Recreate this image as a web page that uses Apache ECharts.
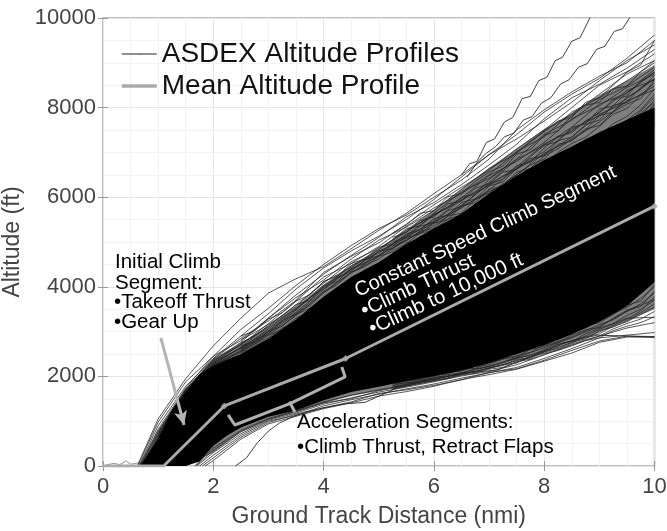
<!DOCTYPE html>
<html><head><meta charset="utf-8">
<style>html,body{margin:0;padding:0;background:#fff}#c{width:667px;height:531px}</style>
<script src="https://cdn.jsdelivr.net/npm/echarts@6/dist/echarts.min.js"></script>
</head><body><div id="c"></div>
<script>
const coreX=[0.67,1,1.25,1.5,1.75,2,2.25,2.5,3,3.5,4,4.5,5,5.5,6,6.5,7,7.5,8,8.5,9,9.5,10];
const coreTop=[0,600,1250,1650,2050,2240,2380,2500,2840,3270,3780,4220,4550,4950,5300,5630,6080,6480,6830,7130,7450,7730,8000];
const coreBottom=[0,0,0,0,100,450,680,860,1100,1240,1470,1650,1770,1900,2010,2130,2300,2500,2700,2940,3220,3570,4100];
const fringeX=[1,1.5,2,2.5,3,3.5,4,4.5,5,5.5,6,6.5,7,7.5,8,8.5,9,9.5,10];
const fringeTop=[780,1720,2400,2750,3100,3560,4050,4480,4850,5280,5720,6180,6650,7080,7520,7880,8280,8600,8950];
const fringeBottom=[0,0,300,760,1040,1200,1400,1560,1680,1810,1950,2080,2220,2380,2560,2780,3000,3240,3500];

// x where each upperLong profile leaves the ground
const upperStart=[0.62,0.63,0.65,0.66,0.68,0.66,0.7,0.68,0.72,0.7,0.74,0.72,0.75,0.74];
// altitudes at x = 1, 1.5, ... 10
const upperLong=[
[1050,1950,2680,3300,3860,4180,4450,4850,5260,5640,6080,6500,6950,7400,7900,8300,8650,9100,9620],
[980,1880,2450,3050,3520,4030,4500,4920,5300,5600,6000,6380,6850,7500,7950,8350,8700,9000,9500],
[900,1780,2400,2900,3400,3950,4420,4800,5130,5500,5950,6450,6950,7300,7700,8120,8600,9050,9400],
[820,1740,2450,2800,3300,3820,4280,4700,5100,5560,5880,6280,6720,7180,7750,8220,8520,8880,9300],
[780,1700,2380,2850,3240,3700,4320,4680,4980,5400,5830,6220,6600,7080,7500,8000,8500,8800,9200],
[750,1720,2330,2760,3300,3760,4150,4620,5040,5330,5700,6180,6640,6980,7480,7850,8300,8750,9050],
[700,1680,2360,2700,3180,3680,4220,4520,4900,5350,5760,6080,6500,7020,7350,7900,8220,8600,9000],
[720,1650,2300,2720,3120,3600,4080,4560,4860,5220,5640,6120,6420,6850,7400,7720,8180,8480,8900],
[680,1700,2280,2650,3140,3560,4110,4430,4830,5260,5590,5980,6480,6800,7220,7750,8040,8450,8750],
[650,1660,2320,2620,3060,3520,3990,4470,4760,5150,5610,5920,6330,6840,7160,7560,8080,8320,8800],
[640,1640,2270,2640,3020,3480,4030,4380,4790,5100,5480,5950,6260,6680,7190,7480,7900,8380,8620],
[620,1660,2260,2580,3000,3430,3940,4400,4680,5130,5420,5820,6300,6620,7020,7520,7820,8200,8640],
[610,1620,2250,2560,2960,3400,3890,4310,4700,5030,5450,5760,6160,6650,6950,7340,7850,8120,8480],
[600,1630,2240,2540,2920,3360,3860,4330,4620,5060,5360,5790,6100,6500,6980,7280,7680,8150,8400]
];
// altitudes at x = 2.5, 2.75, ... 5.25
const upperMid=[
[2750,2900,3100,3320,3500,3760,3950,4200,4350,4600,4700,4950],
[2600,2820,2950,3250,3400,3580,3880,4050,4320,4450,4680,4780],
[2900,3020,3280,3420,3680,3820,4120,4240,4520,4620,4880,4960],
[2680,2780,3000,3120,3380,3520,3760,3980,4120,4380,4500,4720],
[2560,2720,2860,3080,3220,3500,3640,3900,4040,4300,4400,4640],
[2820,2980,3160,3360,3600,3700,4000,4120,4400,4520,4800,4850],
[2620,2760,2920,3050,3300,3440,3720,3880,4100,4260,4450,4600],
[2520,2680,2820,2980,3180,3400,3580,3820,3960,4220,4340,4560]
];
// altitudes at x = 5.25, 5.5, ... 10
const upperShort=[
[5200,5380,5640,5700,6010,6080,6350,6560,6700,7000,7250,7460,7700,7780,8120,8220,8500,8790,8950,9500],
[5050,5300,5360,5620,5760,6000,6060,6400,6620,6960,7060,7380,7480,7820,8050,8120,8420,8480,8800,9050],
[5000,5120,5350,5440,5700,5790,6060,6280,6400,6700,6780,7100,7350,7440,7700,7880,8180,8260,8600,8850],
[4850,5100,5180,5420,5500,5800,5880,6180,6240,6500,6720,6850,7180,7260,7500,7820,7900,8240,8400,8720],
[4800,4960,5200,5260,5520,5600,5830,6000,6240,6340,6620,6680,7000,7200,7340,7580,7850,7980,8280,8550],
[4720,4980,5050,5300,5380,5640,5740,5920,6120,6260,6480,6700,6780,7050,7290,7380,7640,7800,8060,8420],
[4700,4850,5080,5140,5410,5480,5660,5880,6000,6280,6340,6560,6820,6890,7100,7320,7440,7720,7950,8300],
[4650,4870,4950,5180,5250,5500,5620,5720,5980,6060,6300,6500,6600,6880,6960,7240,7420,7500,7800,8180],
[4620,4760,4980,5060,5280,5360,5580,5640,5860,6040,6140,6380,6480,6740,6880,7000,7300,7360,7640,8060],
[4580,4780,4860,5080,5150,5400,5450,5660,5760,5980,6160,6220,6520,6580,6830,7040,7120,7420,7520,7950],
[4560,4690,4900,4980,5180,5250,5480,5520,5780,5840,6080,6260,6320,6580,6720,6880,7180,7240,7500,7880],
[4520,4720,4780,5000,5060,5300,5340,5580,5620,5880,5960,6200,6300,6460,6700,6780,7050,7180,7360,7760],
[4900,5030,5240,5300,5580,5640,5950,6130,6250,6560,6640,6920,7080,7300,7520,7600,7900,8080,8200,8620],
[4760,4920,5000,5240,5320,5480,5700,5800,6060,6180,6400,6450,6760,6920,7020,7280,7500,7560,7880,8120],
[4680,4800,4920,5100,5200,5420,5500,5780,5900,6020,6260,6420,6520,6780,6900,7120,7240,7560,7700,8000],
[4950,5180,5280,5520,5600,5880,5960,6250,6340,6640,6860,6920,7260,7340,7620,7720,8050,8120,8450,8640],
[4600,4740,4940,5020,5230,5320,5520,5600,5820,5930,6180,6300,6400,6640,6780,6950,7100,7280,7440,7820],
[5100,5220,5480,5560,5850,5920,6200,6300,6560,6620,6900,7160,7240,7560,7640,7960,8040,8340,8560,8780],
[4540,4700,4830,5020,5100,5340,5400,5620,5700,5920,6040,6240,6360,6520,6620,6830,6980,7240,7320,7680],
[4750,4900,5120,5200,5460,5540,5760,5860,6140,6200,6440,6600,6700,6960,7120,7260,7540,7620,7920,8240],
[4630,4820,4880,5120,5200,5440,5520,5740,5840,6100,6200,6340,6600,6680,6980,7060,7360,7460,7720,8090],
[4500,4680,4760,4960,5030,5260,5320,5540,5600,5800,5920,6150,6260,6400,6580,6720,6920,7100,7250,7620]
];
// x where each lowerLong profile leaves the ground
const lowerStart=[1.7,1.75,1.8,1.68,1.85,1.66];
// altitudes at x = 2, 2.5, ... 10
const lowerLong=[
[300,720,1020,1180,1380,1520,1650,1760,1880,2010,2110,2260,2480,2700,2900,3080,3200],
[240,680,1000,1130,1340,1480,1600,1720,1830,1960,2080,2200,2400,2620,2860,2920,2980],
[180,640,970,1160,1300,1430,1620,1700,1800,1920,2090,2170,2360,2580,2790,2900,2890],
[350,760,1040,1210,1410,1500,1680,1790,1900,2040,2180,2350,2550,2760,3050,3300,3320],
[120,600,940,1110,1280,1410,1560,1660,1780,1930,2040,2160,2340,2520,2760,2880,2870],
[400,790,1060,1230,1430,1580,1700,1810,1950,2060,2230,2420,2640,2860,3120,3450,3720]
];
// altitudes at x = 5.25, 5.5, ... 10
const lowerShort=[
[1860,1880,1950,2020,2060,2160,2180,2300,2380,2440,2600,2670,2760,2920,3040,3090,3300,3480,3560,3900],
[1800,1860,1880,1980,2000,2080,2170,2220,2310,2420,2460,2600,2720,2780,2950,3080,3180,3360,3500,3700],
[1760,1830,1860,1920,2010,2040,2120,2190,2240,2380,2420,2540,2640,2760,2840,3020,3100,3240,3420,3620],
[1880,1930,2000,2040,2130,2190,2240,2360,2440,2520,2660,2720,2860,2990,3080,3240,3400,3540,3740,4000],
[1740,1790,1880,1900,1960,2060,2090,2180,2260,2300,2440,2520,2600,2720,2820,2900,3060,3180,3280,3450],
[1830,1850,1920,1960,2040,2080,2150,2220,2290,2400,2480,2570,2680,2800,2880,2990,3140,3280,3460,3780],
[1780,1820,1900,1930,1990,2070,2110,2200,2260,2360,2400,2560,2620,2740,2880,2950,3120,3220,3380,3550],
[1900,1960,1990,2070,2110,2200,2280,2320,2470,2500,2620,2760,2820,2950,3130,3200,3380,3590,3680,4050],
[1720,1780,1840,1910,1950,2030,2070,2160,2200,2330,2380,2500,2580,2680,2800,2860,3020,3120,3200,3330],
[1840,1900,1930,2000,2080,2120,2220,2260,2400,2460,2540,2700,2780,2880,3020,3160,3260,3460,3620,3860]
];
const outlierA=[[6.5,6500],[6.65,6750],[6.78,6800],[6.95,7220],[7.1,7300],[7.28,7680],[7.43,7780],[7.6,8200],[7.75,8250],[7.9,8600],[8.05,8680],[8.2,9050],[8.33,9120],[8.5,9480],[8.65,9560],[8.82,9980],[8.9,10200]];
const outlierB=[[6.6,6450],[6.8,6800],[6.95,6980],[7.12,7130],[7.28,7350],[7.45,7430],[7.62,7720],[7.78,7800],[7.95,8100],[8.12,8220],[8.3,8530],[8.45,8620],[8.62,8900],[8.78,8980],[8.95,9300],[9.1,9370],[9.27,9700],[9.42,9760],[9.6,10100]];
const strayLow=[[2.4,0],[2.6,180],[2.8,520],[3,780],[3.2,960],[3.5,1130],[4,1300],[4.4,1390],[4.75,1420],[5.33,1740],[5.93,1920],[6.53,2075],[7.14,2140],[7.74,2430],[8.34,2745],[8.96,2920],[9.5,2900],[10,2880]];
const groundNoise=[[0.05,20],[0.2,60],[0.3,30],[0.42,110],[0.5,40],[0.65,70],[0.75,20],[0.95,50],[1.1,10]];
const meanProfile=[[0,0],[1.1,0],[2.2,1340],[4.4,2400],[10,5800]];
const meanMarks=[[2.2,1340],[4.4,2400],[10,5800]];
const bracket=[[2.27,1140],[2.39,915],[3.4,1400],[4.39,1990],[4.33,2210]];
const bracketTick=[[3.38,1440],[3.48,1200]];
const arrowFrom=[1.05,2860], arrowTo=[1.47,915];
const legendNames=['ASDEX Altitude Profiles','Mean Altitude Profile'];

const LINE='#222';
function thin(data,op,w){return {name:legendNames[0],type:'line',data,symbol:'none',silent:true,animation:false,
  lineStyle:{color:LINE,width:w||0.9,opacity:op||0.85},itemStyle:{color:LINE},z:3};}
const stepGrid=(from,step,vals)=>vals.map((v,i)=>[from+i*step,v]);
function band(xs,top,bottom,fill,opacity,z){return {type:'custom',silent:true,animation:false,z,clip:true,
  data:xs.map((x,i)=>[x,bottom[i],top[i]]),encode:{x:0,y:[1,2]},
  renderItem:(params,api)=>{
    if(params.dataIndex!==0) return null;
    const pts=[];
    xs.forEach((x,i)=>pts.push(api.coord([x,top[i]])));
    for(let i=xs.length-1;i>=0;i--) pts.push(api.coord([xs[i],bottom[i]]));
    return {type:'polygon',shape:{points:pts},style:{fill,opacity}};
  }};}
const series=[];
series.push(band(fringeX,fringeTop,fringeBottom,'#000',0.5,2));
upperLong.forEach((l,k)=>series.push(thin([[upperStart[k],0]].concat(stepGrid(1,0.5,l)))));
upperMid.forEach(l=>series.push(thin(stepGrid(2.5,0.25,l))));
upperShort.forEach(l=>series.push(thin(stepGrid(5.25,0.25,l))));
lowerLong.forEach((l,k)=>series.push(thin([[lowerStart[k],0]].concat(stepGrid(2,0.5,l)))));
lowerShort.forEach(l=>series.push(thin(stepGrid(5.25,0.25,l))));
[outlierA,outlierB,strayLow].forEach(l=>series.push(thin(l,0.85,1)));
series.push(thin(groundNoise,0.6,0.8));
series.push(band(coreX,coreTop,coreBottom,'#000',1,4));
series.push({name:legendNames[1],type:'line',data:meanProfile,symbol:'none',animation:false,silent:true,z:6,
  lineStyle:{color:'#aaaaaa',width:3},itemStyle:{color:'#aaaaaa'},
  markLine:{silent:true,animation:false,symbol:['none','arrow'],symbolSize:[10,14],label:{show:false},
    lineStyle:{color:'#b4b4b4',width:3,type:'solid'},data:[[{coord:arrowFrom},{coord:arrowTo}]]}});
series.push({type:'scatter',data:meanMarks,symbol:'diamond',symbolSize:7,silent:true,animation:false,z:7,itemStyle:{color:'#aaaaaa'}});
[bracket,bracketTick].forEach(b=>series.push({type:'line',data:b,symbol:'none',silent:true,animation:false,z:6,
  lineStyle:{color:'#b0b0b0',width:3}}));

const F='"Liberation Sans",Arial,sans-serif';
const txt=(x,y,t)=>({type:'text',x,y,z:20,silent:true,style:{text:t,fill:'#000',font:'20.5px '+F,textVerticalAlign:'middle'}});
const wt=(x,y,t,size)=>({type:'text',x,y,rotation:25*Math.PI/180,z:20,silent:true,style:{text:t,fill:'#fff',font:size+'px '+F,textVerticalAlign:'middle'}});
const axCommon={axisLine:{show:false},splitLine:{show:true,lineStyle:{color:'#e6e6e6',width:1}},
  minorTick:{show:false,splitNumber:4},minorSplitLine:{show:true,lineStyle:{color:'#f2f2f2',width:1}}};
const tick={show:true,inside:true,length:5,lineStyle:{color:'#999'}};
const chart=echarts.init(document.getElementById('c'),null,{renderer:'canvas'});
chart.setOption({
  animation:false,backgroundColor:'#fff',
  grid:{left:103,right:12.5,top:18,bottom:65,show:true,borderColor:'#aaa',borderWidth:1.5,backgroundColor:'transparent',outerBoundsMode:'none',containLabel:false},
  legend:{data:[{name:legendNames[0],lineStyle:{color:'#222',width:1,opacity:1}},{name:legendNames[1],lineStyle:{color:'#aaaaaa',width:3.5,opacity:1}}],
    left:115,top:35,orient:'vertical',itemWidth:35,itemHeight:1,itemGap:4,selectedMode:false,
    textStyle:{fontFamily:F,fontSize:28,color:'#111'}},
  xAxis:[Object.assign({type:'value',min:0,max:10,interval:2,axisTick:tick,axisLabel:{fontFamily:F,fontSize:22,color:'#444',margin:10,
      formatter:v=>String(v)},name:'Ground Track Distance (nmi)',nameLocation:'middle',nameGap:39,nameTextStyle:{fontFamily:F,fontSize:23,color:'#444'}},axCommon),
    {type:'value',position:'top',min:0,max:10,interval:2,axisLine:{show:false},axisTick:tick,axisLabel:{show:false},splitLine:{show:false}}],
  yAxis:[Object.assign({type:'value',min:0,max:10000,interval:2000,axisTick:tick,axisLabel:{fontFamily:F,fontSize:22,color:'#444',margin:7,formatter:v=>String(v)},
      name:'Altitude (ft)',nameLocation:'middle',nameGap:74,nameTextStyle:{fontFamily:F,fontSize:23,color:'#444'}},axCommon),
    {type:'value',position:'right',min:0,max:10000,interval:2000,axisLine:{show:false},axisTick:tick,axisLabel:{show:false},splitLine:{show:false}}],
  series,
  graphic:[
    txt(115,262,'Initial Climb'),txt(115,283,'Segment:'),txt(114,302,'•Takeoff Thrust'),txt(114,322,'•Gear Up'),
    txt(297,422,'Acceleration Segments:'),txt(297,447,'•Climb Thrust, Retract Flaps'),
    wt(356,292,'Constant Speed Climb Segment',20),wt(362,312,'•Climb Thrust',20.5),wt(370,330,'•Climb to 10,000 ft',20.5)
  ]
});
</script></body></html>
